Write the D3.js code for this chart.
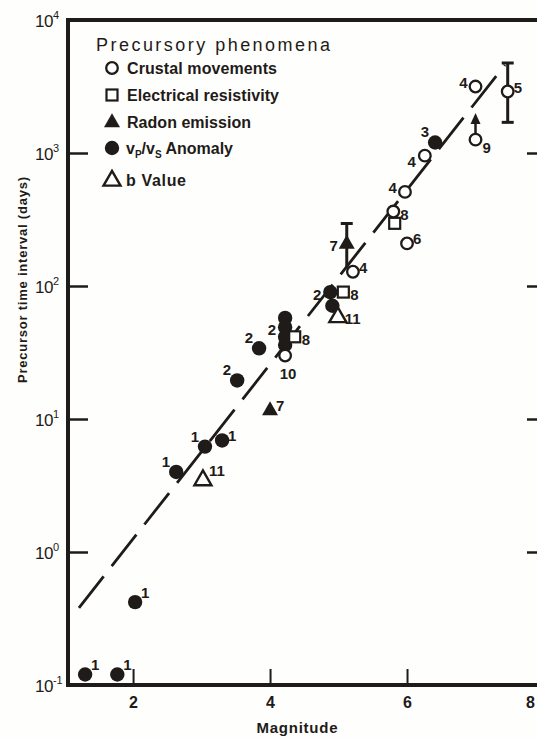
<!DOCTYPE html>
<html><head><meta charset="utf-8">
<script src="https://cdn.jsdelivr.net/npm/d3@7"></script>
<style>body{margin:0;background:#fff;} svg{display:block}</style>
</head><body><svg id="c" width="537" height="739"></svg>
<script>
// ---- data ----
const crustalM   = [7.0, 7.47, 7.0, 6.26, 5.97, 5.80, 6.0, 5.21, 4.22];
const crustalT   = [3160, 2900, 1260, 955, 510, 363, 209, 128, 30];
const crustalLab = ["4", "5", "9", "4", "4", "8", "6", "4", "10"];
const crustalPos = ["lt", "rt", "rb", "lb", "lt", "r", "rt", "rt", "b"];

const resistM   = [5.82, 5.07, 4.36];
const resistT   = [296, 90, 41.5];
const resistLab = ["", "8", "8"];
const resistPos = ["r", "r", "r"];

const radonM   = [5.12, 4.0];
const radonT   = [209, 11.7];
const radonLab = ["7", "7"];
const radonPos = ["l", "rt"];

const vpvsM   = [6.41, 4.88, 4.91, 4.22, 4.22, 4.22, 4.22, 3.84, 3.52, 3.30, 3.05, 2.63, 2.03, 1.30, 1.77];
const vpvsT   = [1200, 90, 71, 57.5, 49, 41.5, 36, 34, 19.5, 6.9, 6.2, 4.0, 0.42, 0.12, 0.12];
const vpvsLab = ["3", "2", "", "", "2", "", "", "2", "2", "1", "1", "1", "1", "1", "1"];
const vpvsPos = ["ltt", "l", "", "", "l", "", "", "ltt", "ltt", "rt", "ltt", "ltt", "rtt", "rtt", "rtt"];

const bvalM   = [4.99, 3.02];
const bvalT   = [59, 3.5];
const bvalLab = ["11", "11"];
const bvalPos = ["r", "rtt"];

const errM  = [7.47, 5.12];
const errLo = [1700, 138];
const errHi = [4750, 295];
const errLoCap = [true, false];

const arrowM = [7.0];
const arrowFrom = [1260];
const arrowTo = [2000];

const fitM = [1.21, 7.43];
const fitT = [0.38, 4600];

const xTicks = [2, 4, 6, 8];
const yTicks = [0.1, 1, 10, 100, 1000, 10000];
const yExp   = ["-1", "0", "1", "2", "3", "4"];

const legendLabels = ["Crustal movements", "Electrical resistivity", "Radon emission", "Anomaly", "b Value"];

// ---- drawing ----
const INK = "#1f1b18";
const svg = d3.select("#c");
svg.append("rect").attr("width", 537).attr("height", 739).attr("fill", "#fefefd");

const x = d3.scaleLinear().domain([1.05, 8.0]).range([68, 544]);
const y = d3.scaleLog().domain([0.1, 10000]).range([685, 20]);

const g = svg.append("g");

// fitted dashed line
g.append("line")
  .attr("x1", x(fitM[0])).attr("y1", y(fitT[0]))
  .attr("x2", x(fitM[1])).attr("y2", y(fitT[1]))
  .attr("stroke", INK).attr("stroke-width", 2.8)
  .attr("stroke-dasharray", "40,13");

// error bars
errM.forEach((m, i) => {
  const xx = x(m);
  g.append("line").attr("x1", xx).attr("x2", xx).attr("y1", y(errLo[i])).attr("y2", y(errHi[i]))
    .attr("stroke", INK).attr("stroke-width", 3);
  g.append("line").attr("x1", xx - 6).attr("x2", xx + 6).attr("y1", y(errHi[i])).attr("y2", y(errHi[i]))
    .attr("stroke", INK).attr("stroke-width", 3);
  if (errLoCap[i]) g.append("line").attr("x1", xx - 6).attr("x2", xx + 6).attr("y1", y(errLo[i])).attr("y2", y(errLo[i]))
    .attr("stroke", INK).attr("stroke-width", 3);
});

// arrows
arrowM.forEach((m, i) => {
  const xx = x(m), y0 = y(arrowFrom[i]) - 6, y1 = y(arrowTo[i]);
  g.append("line").attr("x1", xx).attr("x2", xx).attr("y1", y0).attr("y2", y1 + 8)
    .attr("stroke", INK).attr("stroke-width", 2.5);
  g.append("path").attr("d", `M${xx},${y1} L${xx - 5},${y1 + 11} L${xx + 5},${y1 + 11} Z`).attr("fill", INK);
});

const tri = (s) => { const h = s * 0.87; return `M0,${-h * 0.62} L${s / 2},${h * 0.38} L${-s / 2},${h * 0.38} Z`; };

function drawMarker(sel, type) {
  if (type === "circle") sel.append("circle").attr("r", 5.8).attr("fill", "#fff").attr("stroke", INK).attr("stroke-width", 2.3);
  if (type === "dot") sel.append("circle").attr("r", 7.2).attr("fill", INK);
  if (type === "square") sel.append("rect").attr("x", -5.5).attr("y", -5.5).attr("width", 11).attr("height", 11)
      .attr("fill", "#fff").attr("stroke", INK).attr("stroke-width", 2.2);
  if (type === "tri") sel.append("path").attr("d", tri(16)).attr("fill", INK);
  if (type === "otri") sel.append("path").attr("d", tri(17)).attr("fill", "#fff").attr("stroke", INK).attr("stroke-width", 2.4);
}

const posCfg = {
  r:   {a: "start", dx: 7,  dy: 8},
  rt:  {a: "start", dx: 6,  dy: 1},
  rtt: {a: "start", dx: 6,  dy: -4},
  rb:  {a: "start", dx: 7,  dy: 13},
  l:   {a: "end",   dx: -9, dy: 8},
  lt:  {a: "end",   dx: -8, dy: 1},
  ltt: {a: "end",   dx: -6, dy: -5},
  lb:  {a: "end",   dx: -9, dy: 11},
  b:   {a: "middle", dx: 3, dy: 23}
};

function series(M, T, labs, pos, type) {
  M.forEach((m, i) => {
    const gg = g.append("g").attr("transform", `translate(${x(m)},${y(T[i])})`);
    drawMarker(gg, type);
  });
  M.forEach((m, i) => {
    if (!labs[i]) return;
    const c = posCfg[pos[i]];
    g.append("text").attr("x", x(m) + c.dx).attr("y", y(T[i]) + c.dy)
      .attr("text-anchor", c.a).attr("font-family", "Liberation Sans, Arial, sans-serif")
      .attr("font-weight", "bold").attr("font-size", 15).attr("fill", INK).text(labs[i]);
  });
}
series(vpvsM, vpvsT, vpvsLab, vpvsPos, "dot");
series(resistM, resistT, resistLab, resistPos, "square");
series(crustalM, crustalT, crustalLab, crustalPos, "circle");
series(radonM, radonT, radonLab, radonPos, "tri");
series(bvalM, bvalT, bvalLab, bvalPos, "otri");

// frame
svg.append("rect").attr("x", x.range()[0]).attr("y", y.range()[1])
  .attr("width", x.range()[1] - x.range()[0]).attr("height", y.range()[0] - y.range()[1])
  .attr("fill", "none").attr("stroke", INK).attr("stroke-width", 4);

// axes ticks
const inner = yTicks.slice(1, -1);
const la = svg.append("g").attr("transform", `translate(${x.range()[0]},0)`)
  .call(d3.axisLeft(y).tickValues(inner).tickSize(-20).tickFormat(""));
const ra = svg.append("g").attr("transform", `translate(${x.range()[1]},0)`)
  .call(d3.axisRight(y).tickValues(inner).tickSize(-17).tickFormat(""));
[la, ra].forEach(a => { a.select(".domain").remove(); a.selectAll("line").attr("stroke", INK).attr("stroke-width", 2.5); });

const ba = svg.append("g").attr("transform", `translate(0,${y.range()[0]})`)
  .call(d3.axisBottom(x).tickValues(xTicks).tickSize(-16).tickPadding(12).tickFormat(d3.format("d")));
ba.select(".domain").remove();
ba.selectAll("line").attr("stroke", INK).attr("stroke-width", 2);
ba.selectAll("text").attr("font-family", "Liberation Sans, Arial, sans-serif").attr("font-weight", "bold")
  .attr("font-size", 16).attr("fill", INK)
  .attr("dx", d => (x(d) + 6 > 537 ? -(x(d) + 6 - 536) : 0));

// y tick labels 10^n
yTicks.forEach((v, i) => {
  const t = svg.append("text").attr("x", 35).attr("y", y(v) + 7)
    .attr("font-family", "Liberation Sans, Arial, sans-serif").attr("font-size", 17).attr("fill", INK);
  t.append("tspan").text("10").attr("letter-spacing", -0.5);
  t.append("tspan").attr("dy", -8).attr("font-size", 11).text(yExp[i]);
});

// axis titles
svg.append("text").attr("x", 297).attr("y", 733).attr("text-anchor", "middle")
  .attr("font-family", "Liberation Sans, Arial, sans-serif").attr("font-weight", "bold")
  .attr("font-size", 15).attr("fill", INK).attr("textLength", 81).text("Magnitude");
svg.append("text").attr("transform", "translate(27,280) rotate(-90)").attr("text-anchor", "middle")
  .attr("font-family", "Liberation Sans, Arial, sans-serif").attr("font-weight", "bold")
  .attr("font-size", 13).attr("fill", INK).attr("textLength", 206).text("Precursor time interval (days)");

// legend
const lg = svg.append("g");
lg.append("text").attr("x", 96).attr("y", 51).attr("font-family", "Liberation Sans, Arial, sans-serif")
  .attr("font-size", 18).attr("fill", INK).attr("textLength", 234).text("Precursory  phenomena");
const legTypes = ["circle", "square", "tri", "dot", "otri"];
const legY = [68, 95, 122, 148, 180];
const legW = [150, 152, 124, 82, 60];
legTypes.forEach((tp, i) => {
  const gg = lg.append("g").attr("transform", `translate(112,${legY[i]})`);
  drawMarker(gg, tp);
  if (i === 3) {
    const t = lg.append("text").attr("x", 126).attr("y", legY[i] + 6)
      .attr("font-family", "Liberation Sans, Arial, sans-serif").attr("font-weight", "bold")
      .attr("font-size", 16).attr("fill", INK);
    t.append("tspan").text("v");
    t.append("tspan").attr("font-size", 10).attr("dy", 4).text("P");
    t.append("tspan").attr("dy", -4).text("/v");
    t.append("tspan").attr("font-size", 10).attr("dy", 4).text("S");
    t.append("tspan").attr("dy", -4).text(" " + legendLabels[i]);
  } else {
    lg.append("text").attr("x", i === 4 ? 126 : 127).attr("y", legY[i] + 6)
      .attr("font-family", "Liberation Sans, Arial, sans-serif").attr("font-weight", "bold")
      .attr("font-size", 16).attr("fill", INK).attr("textLength", legW[i]).text(legendLabels[i]);
  }
});
</script></body></html>
